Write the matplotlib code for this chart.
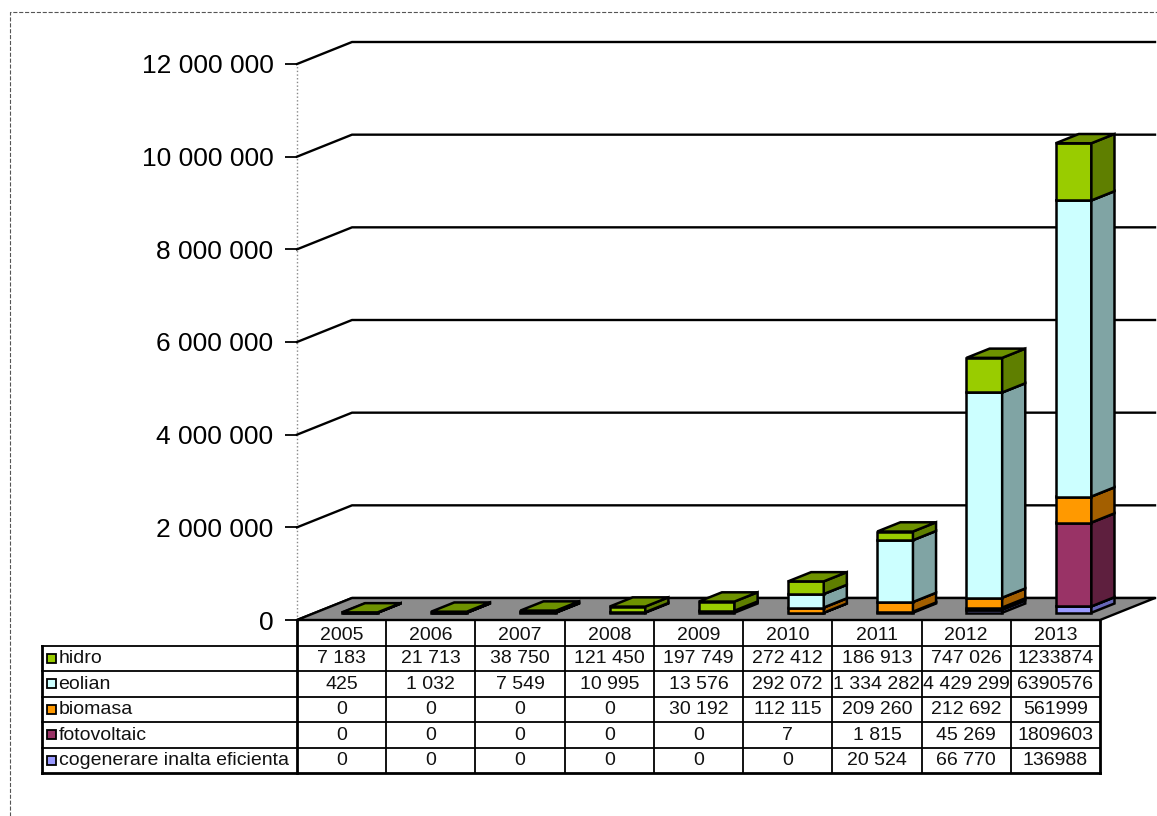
import numpy as np
import matplotlib.pyplot as plt
from matplotlib.patches import Polygon, Rectangle
from matplotlib.lines import Line2D

plt.rcParams['font.family'] = ['Liberation Sans', 'DejaVu Sans']

years = ['2005', '2006', '2007', '2008', '2009', '2010', '2011', '2012', '2013']
hidro = [7183, 21713, 38750, 121450, 197749, 272412, 186913, 747026, 1233874]
eolian = [425, 1032, 7549, 10995, 13576, 292072, 1334282, 4429299, 6390576]
biomasa = [0, 0, 0, 0, 30192, 112115, 209260, 212692, 561999]
fotovoltaic = [0, 0, 0, 0, 0, 7, 1815, 45269, 1809603]
cogenerare = [0, 0, 0, 0, 0, 0, 20524, 66770, 136988]
names = ['hidro', 'eolian', 'biomasa', 'fotovoltaic', 'cogenerare inalta eficienta']
yticks = [0, 2000000, 4000000, 6000000, 8000000, 10000000, 12000000]

# colours: front, side, top
cols = {
    'hidro': ('#99cc00', '#5f7f00', '#6e9200'),
    'eolian': ('#ccffff', '#80a4a4', '#a6d0d0'),
    'biomasa': ('#ff9900', '#a35f00', '#c87800'),
    'fotovoltaic': ('#993366', '#5e1f3e', '#7a2952'),
    'cogenerare inalta eficienta': ('#9999ff', '#6666b8', '#7f7fd6'),
}

W, H = 1157, 816
fig = plt.figure(figsize=(W / 100, H / 100), dpi=100)


def px(l, t, r, b):
    return [l / W, 1 - b / H, (r - l) / W, (b - t) / H]


ax = fig.add_axes(px(297, 64, 1100, 620))
ax.set_xlim(-0.5, 8.5)
ax.set_ylim(0, 12e6)
for s in ax.spines.values():
    s.set_visible(False)

DX = 55 / 89.2           # depth shift in category units
DY = 22 * 12e6 / 556     # depth shift in value units
BW = 0.40                # bar width
F0 = 0.33                # bar front position (fraction of depth)
BD = 0.42                # bar depth (fraction of depth)

# walls / gridlines
for v in yticks:
    ax.add_line(Line2D([-0.5, -0.5 + DX, 8.5 + DX], [v, v + DY, v + DY],
                       color='black', lw=1.7, clip_on=False, zorder=0.5))
ax.add_line(Line2D([-0.5, -0.5], [0, 12e6], color='#888888', lw=1,
                   ls=':', clip_on=False, zorder=0.4))

floor = Polygon([(-0.5, 0), (8.5, 0), (8.5 + DX, DY), (-0.5 + DX, DY)],
                closed=True, fc='#8c8c8c', ec='black', lw=1.7,
                clip_on=False, zorder=1)
ax.add_patch(floor)

ax.set_yticks(yticks)
ax.set_yticklabels(['{:,}'.format(v).replace(',', ' ') for v in yticks])
ax.tick_params(axis='y', length=9, width=1.3, pad=8, labelsize=19)
ax.tick_params(axis='x', bottom=False, labelbottom=False)


def box(x, y0, y1, c):
    xl = x - BW / 2 + F0 * DX
    yb, yt = y0 + F0 * DY, y1 + F0 * DY
    dx, dy = BD * DX, BD * DY
    front = [(xl, yb), (xl + BW, yb), (xl + BW, yt), (xl, yt)]
    side = [(xl + BW, yb), (xl + BW + dx, yb + dy), (xl + BW + dx, yt + dy), (xl + BW, yt)]
    top = [(xl, yt), (xl + BW, yt), (xl + BW + dx, yt + dy), (xl + dx, yt + dy)]
    for pts, fc in ((front, c[0]), (side, c[1]), (top, c[2])):
        ax.add_patch(Polygon(pts, closed=True, fc=fc, ec='black', lw=1.8,
                             joinstyle='miter', clip_on=False, zorder=2))


stack = [('cogenerare inalta eficienta', cogenerare), ('fotovoltaic', fotovoltaic),
         ('biomasa', biomasa), ('eolian', eolian), ('hidro', hidro)]
for i in range(len(years)):
    base = 0
    for nm, vals in stack:
        v = vals[i]
        if v <= 0:
            continue
        box(i, base, base + v, cols[nm])
        base += v

# data table
tab = fig.add_axes(px(42, 620, 1100, 773))
xL = -0.5 - 255 / 89.2
tab.set_xlim(xL, 8.5)
tab.set_ylim(6, 0)
tab.axis('off')
rows = [hidro, eolian, biomasa, fotovoltaic, cogenerare]

for r in range(1, 7):
    tab.add_line(Line2D([xL, 8.5], [r, r], color='black',
                        lw=2 if r == 6 else 1.3, clip_on=False))
tab.add_line(Line2D([xL, xL], [1, 6], color='black', lw=2, clip_on=False))
for k in range(10):
    xk = -0.5 + k
    tab.add_line(Line2D([xk, xk], [0, 6], color='black',
                        lw=2 if k in (0, 9) else 1.3, clip_on=False))


def fmt(v, year):
    if year == '2013':
        return str(v)
    return '{:,}'.format(v).replace(',', ' ')


for i, yr in enumerate(years):
    tab.text(i, 0.62, yr, ha='center', va='center', fontsize=14, color='#111111')
    for r, vals in enumerate(rows):
        tab.text(i, r + 1.52, fmt(vals[i], yr), ha='center', va='center',
                 fontsize=14, color='#111111')

for r, nm in enumerate(names):
    tab.add_patch(Rectangle((xL + 0.056, r + 1.32), 0.1, 0.36, fc=cols[nm][0],
                            ec='black', lw=1.3, clip_on=False))
    tab.text(xL + 0.185, r + 1.52, nm, ha='left', va='center', fontsize=14,
             color='#111111')

# outer dashed frame
fig.add_artist(Line2D([10 / W, 10 / W, 1.0], [0.0, 1 - 12 / H, 1 - 12 / H],
                      color='#555555', lw=0.8, ls='--'))

fig.savefig('out.png', dpi=100)
